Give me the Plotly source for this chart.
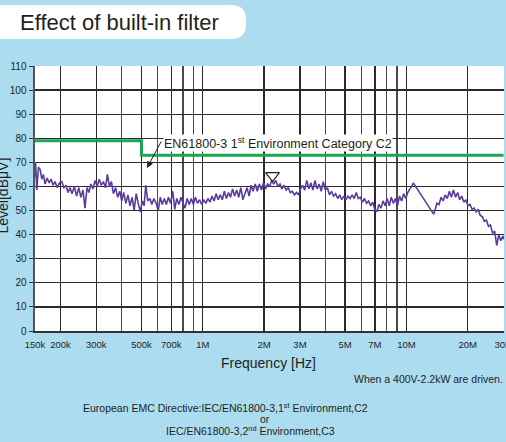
import plotly.graph_objects as go

# ---------------- data ----------------
freq_khz = [
    150, 151, 153, 156, 159, 162, 165, 168, 172, 176, 180, 184, 188, 193, 198,
    203, 208, 213, 218, 223, 228, 234, 240, 246, 252, 258, 264, 270, 276, 282, 289, 296,
    303, 310, 317, 325, 333, 340, 348, 356, 364, 373, 382, 391, 400, 409, 419, 429, 439,
    450, 460, 471, 482, 493, 505,
    515, 525, 537, 550, 562, 575, 590, 604, 618, 632, 647, 662, 678, 694, 712, 728, 745,
    763, 781, 800, 818, 838, 858, 878, 899, 920, 942, 965, 988,
    1011, 1035, 1060, 1085, 1110, 1136, 1163, 1190, 1218, 1247, 1276, 1306, 1337, 1368,
    1400, 1433, 1467, 1501, 1537, 1573, 1610, 1648, 1687, 1727, 1767, 1809, 1852, 1895,
    1940, 1986, 2033, 2081, 2130, 2180, 2231,
    2284, 2338, 2393, 2449, 2507, 2566, 2627, 2689, 2752, 2817, 2883, 2951, 3021, 3092,
    3165, 3240, 3316, 3394, 3474, 3556, 3640, 3726, 3814, 3904, 3996, 4090, 4187, 4285,
    4386, 4490, 4596, 4704, 4815, 4929, 5045,
    5164, 5286, 5410, 5538, 5668, 5802, 5939, 6079, 6222, 6369, 6519, 6673, 6830, 6991,
    7156, 7325, 7498, 7674, 7855, 8040, 8230, 8424, 8623, 8826, 9034, 9247, 9465, 9688, 9917,
    10150, 10390, 10630, 10800, 13600, 13900, 14100, 14450, 14800, 15150, 15500, 15870,
    16250, 16630, 17020, 17430, 17840, 18260, 18690, 19130, 19580, 20040, 20510, 21000,
    21500, 22000, 22500, 23030, 23570, 24130, 24700, 25280, 25870, 26480, 27110, 27750,
    28400, 29070, 29750, 30000,
]
level_dbuv = [
    64, 70, 58.5, 68, 67, 63, 65, 61, 63.5, 61.5, 63, 60.5, 62, 59.5, 61.5,
    62, 59.5, 60.5, 57.5, 59.5, 57, 60, 56, 59.5, 55.5, 58.5, 51, 59.5, 57.5, 61, 59, 62.5,
    60, 63, 60.5, 62, 59.5, 65, 60, 62, 57, 59.5, 55.5, 58, 54, 57.5, 53, 56.5, 52,
    55.5, 50, 57, 53, 49.5, 54,
    52, 60.5, 54, 55, 52.5, 55, 53, 50, 55.5, 52.5, 55, 52.5, 55.5, 53, 58, 50.5, 55,
    52.5, 55.5, 53, 51, 55, 52.5, 55, 52.5, 55.5, 53, 54.5, 52.5,
    54.5, 53, 55, 53.5, 56, 54, 57, 54.5, 56.5, 54.5, 58, 55, 57.5, 55.5,
    59, 56, 58.5, 55.5, 59.5, 54.5, 57, 59.5, 56, 60.5, 58, 61, 58, 61,
    58.5, 61.5, 59, 61, 60, 62.5, 61,
    62.5, 60, 61, 59, 60.5, 58.5, 59.5, 57.5, 58, 56.5, 57.5, 56.5, 59, 60.5,
    58.5, 62.5, 59, 61.5, 58.5, 62.5, 59, 61, 58, 62, 58.5, 59.5, 56.5, 58,
    56, 57, 55, 56.5, 54.5, 56, 54.5,
    56, 55, 56.5, 55, 57.5, 55, 55.5, 53.5, 55, 53, 54, 52, 53.5, 50.5,
    49.5, 52.5, 51, 54, 52, 55, 52, 55.5, 53, 55, 52, 56, 54, 57, 55,
    57.5, 59, 60, 61.5, 48.5, 51, 53, 52.5, 55.5, 54, 56.5, 55,
    58, 55.5, 58.5, 55.5, 57.5, 54.5, 56, 53.5, 54.5, 52, 52.5, 50.5,
    51, 49.5, 50.5, 48, 47.5, 45.5, 46, 43.5, 44, 40.5, 41.5, 35.5,
    40, 37.5, 39.5, 38,
]
limit_freq_hz = [150e3, 500e3, 500e3, 30e6]
limit_level = [79, 79, 73, 73]
peak_freq_hz = [2.2e6]
peak_level = [64.5]

x_tick_vals = [150e3, 200e3, 300e3, 500e3, 700e3, 1e6, 2e6, 3e6, 5e6, 7e6, 10e6, 20e6, 30e6]
x_tick_text = ["150k", "200k", "300k", "500k", "700k", "1M", "2M", "3M", "5M", "7M", "10M", "20M", "30M"]
x_minor_vals = [400e3, 600e3, 800e3, 900e3, 4e6, 6e6, 8e6, 9e6]
y_tick_vals = list(range(0, 111, 10))

# ---------------- layout helpers ----------------
W_FIG, H_FIG = 506, 442
L, R, T, B = 35, 504, 66, 331
PW, PH = R - L, B - T


def px(x):
    return (x - L) / PW


def py(y):
    return (B - y) / PH


FONT = "Arial, Liberation Sans, Helvetica, sans-serif"
TXT = "#231f20"
BG = "#acdcef"
GRID = "#2a2a2a"

fig = go.Figure()
fig.add_trace(go.Scatter(
    x=[f * 1e3 for f in freq_khz], y=level_dbuv, mode="lines",
    line=dict(color="#5b3c9e", width=1.6), hoverinfo="skip", showlegend=False))
fig.add_trace(go.Scatter(
    x=limit_freq_hz, y=limit_level, mode="lines",
    line=dict(color="#1ba653", width=3), hoverinfo="skip", showlegend=False))
fig.add_trace(go.Scatter(
    x=peak_freq_hz, y=peak_level, mode="markers",
    marker=dict(symbol="triangle-down-open", size=12, color="#231f20", line=dict(width=1.2)),
    hoverinfo="skip", showlegend=False))

# title pill shape (pixel coords converted to paper)
x0, x1, y0, y1, r = -12, 246, 5, 39, 15
path = (
    f"M {px(x0)},{py(y0)} L {px(x1 - r)},{py(y0)} "
    f"Q {px(x1)},{py(y0)} {px(x1)},{py(y0 + r)} "
    f"L {px(x1)},{py(y1 - r)} "
    f"Q {px(x1)},{py(y1)} {px(x1 - r)},{py(y1)} "
    f"L {px(x0)},{py(y1)} Z"
)
fig.add_shape(type="path", path=path, xref="paper", yref="paper",
              fillcolor="white", line=dict(width=0), layer="above")

ann = []
ann.append(dict(text="Effect of built-in filter", x=px(18), y=py(22), xref="paper", yref="paper",
                xanchor="left", yanchor="middle", showarrow=False,
                font=dict(family=FONT, size=22, color=TXT)))
ann.append(dict(text="Frequency [Hz]", x=px(268), y=py(363), xref="paper", yref="paper",
                xanchor="center", yanchor="middle", showarrow=False,
                font=dict(family=FONT, size=14, color=TXT)))
ann.append(dict(text="Level[dBμV]", x=px(2.5), y=py(196), xref="paper", yref="paper",
                xanchor="center", yanchor="middle", showarrow=False, textangle=-90,
                font=dict(family=FONT, size=14, color=TXT)))
ann.append(dict(text="When a 400V-2.2kW are driven.", x=px(505), y=py(379), xref="paper", yref="paper",
                xanchor="right", yanchor="middle", showarrow=False,
                font=dict(family=FONT, size=10.5, color=TXT)))
ann.append(dict(text="European EMC Directive:IEC/EN61800-3,1<sup>st</sup> Environment,C2",
                x=px(225), y=py(407), xref="paper", yref="paper",
                xanchor="center", yanchor="middle", showarrow=False,
                font=dict(family=FONT, size=10.5, color=TXT)))
ann.append(dict(text="or", x=px(265), y=py(419), xref="paper", yref="paper",
                xanchor="center", yanchor="middle", showarrow=False,
                font=dict(family=FONT, size=10.5, color=TXT)))
ann.append(dict(text="IEC/EN61800-3,2<sup>nd</sup> Environment,C3", x=px(250), y=py(430),
                xref="paper", yref="paper", xanchor="center", yanchor="middle", showarrow=False,
                font=dict(family=FONT, size=10.5, color=TXT)))
ann.append(dict(text="EN61800-3 1<sup>st</sup> Environment Category C2", x=px(163), y=py(143),
                xref="paper", yref="paper", xanchor="left", yanchor="middle", showarrow=False,
                bgcolor="white", borderpad=0,
                font=dict(family=FONT, size=12.5, color=TXT)))
ann.append(dict(text="", x=px(147), y=py(168), xref="paper", yref="paper",
                showarrow=True, ax=15, ay=-28, arrowhead=2, arrowsize=1.3, arrowwidth=1,
                arrowcolor=TXT))

fig.update_layout(
    template="none",
    width=W_FIG, height=H_FIG,
    margin=dict(l=L, r=W_FIG - R, t=T, b=H_FIG - B, pad=0),
    paper_bgcolor=BG, plot_bgcolor="white",
    showlegend=False,
    annotations=ann,
    xaxis=dict(
        type="log", range=[5.17609, 7.4790], automargin=False,
        tickmode="array", tickvals=x_tick_vals, ticktext=x_tick_text,
        ticks="outside", ticklen=4, tickcolor="rgba(0,0,0,0)",
        ticklabeloverflow="allow",
        tickfont=dict(family=FONT, size=9.5, color=TXT),
        showgrid=True, gridcolor=GRID, gridwidth=1.3,
        minor=dict(tickmode="array", tickvals=x_minor_vals, showgrid=True,
                   gridcolor="#4a4a4a", gridwidth=1.3, ticks=""),
        showline=True, linecolor="#333", linewidth=2, mirror=False,
        zeroline=False, fixedrange=True,
    ),
    yaxis=dict(
        range=[0, 110], automargin=False,
        tickmode="array", tickvals=y_tick_vals,
        ticks="outside", ticklen=4, tickcolor="#333", tickwidth=1,
        tickfont=dict(family=FONT, size=10, color=TXT),
        showgrid=True, gridcolor=GRID, gridwidth=1.3,
        showline=True, linecolor="#555", linewidth=2.5,
        zeroline=False, fixedrange=True,
    ),
)

fig.write_html(
    "out.html",
    config={"displayModeBar": False, "staticPlot": True},
    post_script="document.body.style.margin='0';document.body.style.overflow='hidden';"
                "document.documentElement.style.overflow='hidden';",
)
